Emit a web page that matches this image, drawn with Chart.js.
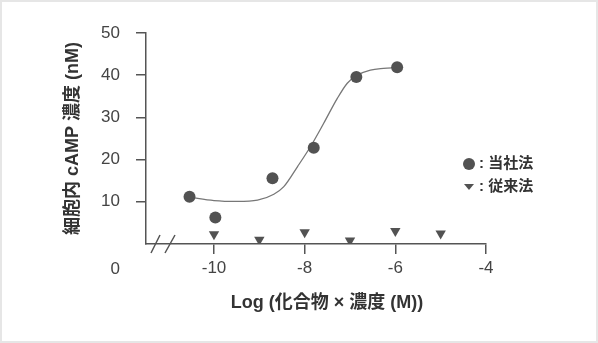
<!DOCTYPE html>
<html lang="ja">
<head>
    <meta charset="UTF-8">
    <title>細胞内 cAMP 濃度</title>
    <script src="https://cdn.jsdelivr.net/npm/chart.js"></script>
    <style>
        body { margin: 0; background: #fff; }
        #wrap { position: relative; width: 598px; height: 343px; }
        #wrap canvas { display: block; }
        #frame { position: absolute; left: 0; top: 0; right: 0; bottom: 0; border: 2px solid #e6e6e6; pointer-events: none; }
    </style>
</head>
<body>
    <div id="wrap">
        <canvas id="campChart" width="598" height="343"></canvas>
        <div id="frame"></div>
    </div>

    <script>
    // 当社法 (circles)
    const ourX = [-10.54, -9.97, -8.71, -7.8, -6.86, -5.96];
    const ourY = [11.2, 6.3, 15.6, 22.8, 39.6, 41.9];
    // 従来法 (triangles)
    const convX = [-10, -9, -8, -7, -6, -5];
    const convY = [2.3, 1.0, 2.8, 0.8, 3.1, 2.5];
    // fitted curve
    const curveX = [-10.54, -10, -9.48, -9.04, -8.68, -8.46, -8.16, -7.87, -7.58, -7.28, -7.06, -6.84, -6.55, -6.26, -5.97];
    const curveY = [11.1, 10.3, 10.1, 10.4, 11.8, 13.6, 18.3, 23.1, 28.6, 34.5, 38.1, 40.0, 41.2, 41.6, 41.8];
    const xTicks = [-10, -8, -6, -4];
    const yTicks = [10, 20, 30, 40, 50];

    const fontFamily = '"Liberation Sans", Arial, "Noto Sans CJK JP", sans-serif';
    const markColor = '#525252';
    const axisColor = '#555';

    const toPoints = (xs, ys) => xs.map((x, i) => ({x: x, y: ys[i]}));

    const extras = {
        id: 'extras',
        afterDraw(chart) {
            const ctx = chart.ctx;
            const area = chart.chartArea;
            ctx.save();

            // the displaced "0" of the y axis
            ctx.font = '17px ' + fontFamily;
            ctx.fillStyle = '#444';
            ctx.textAlign = 'right';
            ctx.textBaseline = 'middle';
            ctx.fillText('0', area.left - 26, area.bottom + 25);

            // axis break marks
            ctx.strokeStyle = axisColor;
            ctx.lineWidth = 1.5;
            ctx.beginPath();
            ctx.moveTo(area.left + 5, area.bottom + 9);
            ctx.lineTo(area.left + 14, area.bottom - 9);
            ctx.moveTo(area.left + 19, area.bottom + 9);
            ctx.lineTo(area.left + 29, area.bottom - 9);
            ctx.stroke();

            // x axis title
            ctx.font = '600 18px ' + fontFamily;
            ctx.fillStyle = '#333';
            ctx.textAlign = 'center';
            ctx.fillText('Log (化合物 × 濃度 (M))', 327, 303);

            // legend
            ctx.fillStyle = markColor;
            ctx.beginPath();
            ctx.arc(469, 164, 6, 0, Math.PI * 2);
            ctx.fill();
            ctx.beginPath();
            ctx.moveTo(464, 184);
            ctx.lineTo(474, 184);
            ctx.lineTo(469, 190);
            ctx.closePath();
            ctx.fill();
            ctx.font = 'bold 15px ' + fontFamily;
            ctx.fillStyle = '#333';
            ctx.textAlign = 'left';
            ctx.fillText(': 当社法', 479, 164);
            ctx.fillText(': 従来法', 479, 187);

            ctx.restore();
        }
    };

    const ctx = document.getElementById('campChart').getContext('2d');
    const campChart = new Chart(ctx, {
        type: 'scatter',
        data: {
            datasets: [{
                label: '当社法',
                data: toPoints(ourX, ourY),
                pointStyle: 'circle',
                pointRadius: 6,
                backgroundColor: markColor,
                borderWidth: 0
            }, {
                label: '従来法',
                data: toPoints(convX, convY),
                pointStyle: 'triangle',
                pointRotation: 180,
                pointRadius: 6,
                backgroundColor: markColor,
                borderWidth: 0
            }, {
                label: 'fit',
                data: toPoints(curveX, curveY),
                showLine: true,
                pointRadius: 0,
                borderColor: '#777',
                borderWidth: 1.3,
                cubicInterpolationMode: 'monotone'
            }]
        },
        options: {
            responsive: false,
            animation: false,
            events: [],
            layout: {
                padding: {left: 56, right: 112, top: 33, bottom: 59}
            },
            plugins: {
                legend: {display: false},
                tooltip: {enabled: false}
            },
            scales: {
                x: {
                    type: 'linear',
                    min: -11.5,
                    max: -4,
                    afterBuildTicks: scale => { scale.ticks = xTicks.map(v => ({value: v})); },
                    afterFit: scale => { scale.height = 40; },
                    grid: {display: true, drawOnChartArea: false, drawTicks: true, tickLength: 10, color: axisColor, lineWidth: 1.5},
                    border: {display: true, color: axisColor, width: 1.5},
                    ticks: {color: '#444', font: {family: fontFamily, size: 17}, padding: 4, maxRotation: 0}
                },
                y: {
                    min: 0,
                    max: 50,
                    afterBuildTicks: scale => { scale.ticks = yTicks.map(v => ({value: v})); },
                    afterFit: scale => { scale.width = 90; },
                    grid: {display: true, drawOnChartArea: false, drawTicks: true, tickLength: 10, color: axisColor, lineWidth: 1.5},
                    border: {display: true, color: axisColor, width: 1.5},
                    ticks: {color: '#444', font: {family: fontFamily, size: 17}, padding: 16},
                    title: {
                        display: true,
                        text: '細胞内 cAMP 濃度 (nM)',
                        color: '#333',
                        font: {family: fontFamily, size: 18, weight: '600'},
                        padding: {top: 6, bottom: 0}
                    }
                }
            }
        },
        plugins: [extras]
    });
    </script>
</body>
</html>
